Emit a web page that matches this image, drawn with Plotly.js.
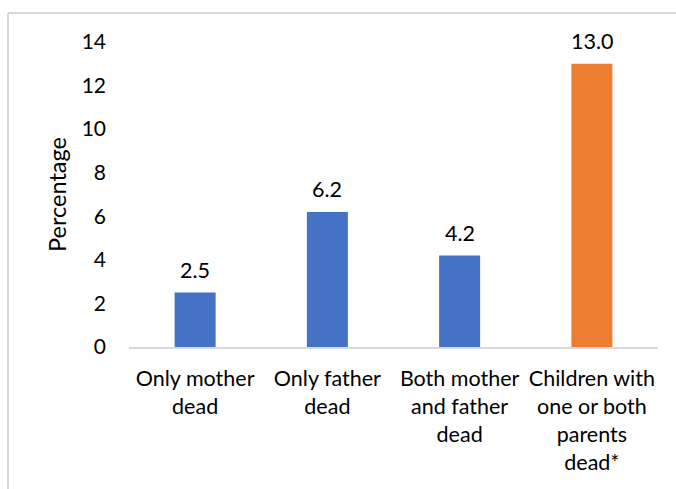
<!DOCTYPE html>
<html><head><meta charset="utf-8">
<script src="https://cdn.plot.ly/plotly-3.0.1.min.js"></script>
<style>html,body{margin:0;padding:0;background:#fff;}#chart{width:676px;height:489px;}</style>
</head><body><div id="chart"></div>
<script>
const categories = ["Only mother<br>dead", "Only father<br>dead", "Both mother<br>and father<br>dead", "Children with<br>one or both<br>parents<br>dead*"];
const values = [2.5, 6.2, 4.2, 13.0];
const labels = ["2.5", "6.2", "4.2", "13.0"];
const colors = ["#4472C4", "#4472C4", "#4472C4", "#ED7D31"];
const yTicks = [0, 2, 4, 6, 8, 10, 12, 14];

const font = {family: "Lato, 'Open Sans', sans-serif", size: 21.5, color: "#000"};

Plotly.newPlot("chart", [{
  type: "bar",
  x: categories,
  y: values,
  marker: {color: colors},
  hoverinfo: "skip"
}], {
  width: 676, height: 489,
  margin: {l: 129, r: 18, t: 42, b: 142},
  paper_bgcolor: "#fff", plot_bgcolor: "#fff",
  bargap: 0.69,
  font: font,
  showlegend: false,
  xaxis: {
    showline: true, linecolor: "#d9d9d9", linewidth: 1.5,
    ticks: "", tickfont: font, ticklabelstandoff: 12, automargin: false
  },
  yaxis: {
    range: [0, 14], tickvals: yTicks, ticktext: yTicks.map(String),
    showgrid: false, zeroline: false, showline: false, ticks: "",
    tickfont: {family: font.family, size: 21, color: "#000"}, ticklabelstandoff: 22, automargin: false,
    title: {text: "Percentage", font: {family: font.family, size: 23.5, color: "#000"}, standoff: 8}
  },
  annotations: values.map((v, i) => ({
    x: categories[i], y: v, xref: "x", yref: "y",
    text: labels[i], showarrow: false, yanchor: "bottom", yshift: 8,
    font: font
  })),
  shapes: [
    {type: "line", xref: "paper", yref: "paper", x0: -0.2287, x1: 1.05, y0: 1.095, y1: 1.095, line: {color: "#d9d9d9", width: 2}},
    {type: "line", xref: "paper", yref: "paper", x0: -0.2287, x1: -0.2287, y0: 1.095, y1: -0.5, line: {color: "#d9d9d9", width: 2}}
  ]
}, {displayModeBar: false, staticPlot: true});
</script></body></html>
